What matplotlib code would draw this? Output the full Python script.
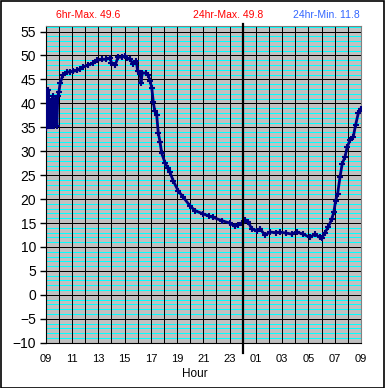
import numpy as np
import matplotlib
matplotlib.use("Agg")
import matplotlib.pyplot as plt
from matplotlib.ticker import MultipleLocator, FuncFormatter

plt.rcParams['font.family'] = ['Liberation Sans', 'DejaVu Sans']

# hours since 00:00 of first day (09 -> 33 = 09 next day)
hours = [9.00, 9.05, 9.12, 9.20, 9.30, 9.38, 9.45, 9.55, 9.65, 9.75, 9.85, 9.92,
         10.00, 10.10, 10.30, 10.60, 10.85, 11.10, 11.40, 11.60, 11.86, 12.20,
         12.60, 12.90, 13.30, 13.60, 13.90, 14.00, 14.30, 14.50, 14.80, 15.00,
         15.20, 15.40, 15.65, 15.90, 16.00, 16.20, 16.25, 16.35, 16.60, 16.80,
         16.95, 17.07, 17.19, 17.30, 17.45, 17.57, 17.70, 17.83, 18.08, 18.30,
         18.46, 18.71, 19.09, 19.47, 19.98, 20.36, 20.99, 21.40, 21.75, 22.39,
         23.02, 23.40, 23.60, 23.92, 24.17, 24.42, 24.68, 25.06, 25.31, 25.69,
         26.07, 26.50, 26.83, 27.30, 27.72, 28.10, 28.60, 29.11, 29.49, 29.87,
         30.00, 30.25, 30.50, 30.77, 30.94, 31.07, 31.22, 31.40, 31.57, 31.78,
         31.95, 32.16, 32.41, 32.59, 32.79, 32.97]
temps = [34.8, 42.5, 35.5, 42.8, 35.2, 40.5, 35.2, 41.5, 35.3, 41.0, 35.2, 41.5,
         42.3, 44.2, 45.9, 46.5, 46.6, 46.7, 46.9, 47.2, 47.6, 48.0,
         48.4, 49.0, 49.2, 49.2, 49.5, 48.5, 48.1, 49.6, 49.7, 49.8,
         49.4, 49.2, 48.3, 48.8, 46.7, 46.2, 44.2, 46.4, 46.3, 46.0,
         44.6, 43.3, 40.3, 38.4, 37.5, 33.8, 32.0, 29.6, 27.6, 26.4,
         25.6, 23.8, 21.7, 20.4, 18.6, 17.6, 16.9, 16.5, 16.2, 15.5,
         15.0, 14.3, 14.6, 15.0, 15.7, 15.2, 13.8, 13.4, 13.8, 12.5,
         13.1, 13.0, 13.1, 12.9, 12.7, 13.1, 12.7, 12.0, 12.7, 12.0,
         11.8, 13.0, 14.1, 15.8, 17.4, 19.7, 21.1, 24.6, 27.4, 28.8,
         30.9, 32.3, 33.0, 35.5, 37.9, 38.8]

header_texts = ["6hr-Max. 49.6", "24hr-Max. 49.8", "24hr-Min. 11.8"]
header_colors = ["#FF0000", "#FF0000", "#3366FF"]
header_x = [88, 228, 326]

W, H = 385, 388
fig = plt.figure(figsize=(W / 100, H / 100), dpi=100)
fig.patch.set_facecolor("white")

# rahmen um das ganze bild
fig.patches.append(plt.Rectangle((0.5 / W, 0.5 / H), 1 - 1.5 / W, 1 - 1.5 / H,
                                 transform=fig.transFigure, fill=False,
                                 edgecolor="black", linewidth=1.2))

left, right, top, bottom = 45.7, 361, 26.3, 342.7
ax = fig.add_axes([left / W, 1 - bottom / H, (right - left) / W, (bottom - top) / H])
ax.set_facecolor("#C0C0C0")

ax.set_xlim(9, 33)
ax.set_ylim(-10, 56.1)

ax.yaxis.set_major_locator(MultipleLocator(5))
ax.xaxis.set_major_locator(MultipleLocator(1))

# gitter: erst cyan (jede einheit), dann schwarz
for y in np.arange(-9, 57, 1):
    if y % 5 != 0:
        ax.axhline(y, color="#00FFFF", linewidth=0.5, zorder=0.5,
                   antialiased=False)
for y in np.arange(-5, 56, 5):
    ax.axhline(y, color="black", linewidth=0.6, zorder=0.6, antialiased=False)
for x in np.arange(10, 33, 1):
    ax.axvline(x, color="black", linewidth=0.6, zorder=0.7, antialiased=False)

ax.xaxis.set_major_formatter(FuncFormatter(
    lambda h, p: "%02d" % (int(round(h)) % 24) if int(round(h)) % 2 == 1 else ""))
ax.tick_params(axis="x", length=0, labelsize=8, pad=8)
ax.tick_params(axis="y", which="major", length=4, width=1, direction="out",
               labelsize=10, pad=3)

for s in ["top", "right"]:
    ax.spines[s].set_color("#808080")
for s in ["left", "bottom"]:
    ax.spines[s].set_color("black")

ax.plot(hours, temps, color="#000080", linewidth=2.0, marker="+",
        markersize=4.5, markeredgewidth=1.5, zorder=3)

# mitternacht
ax.axvline(24, ymin=-0.033, ymax=1.007, color="black", linewidth=1.6,
           clip_on=False, zorder=4)

for t, c, x in zip(header_texts, header_colors, header_x):
    fig.text(x / W, 1 - 15.5 / H, t, color=c, fontsize=7.5,
             ha="center", va="center")

fig.text(195 / W, 1 - 374 / H, "Hour", fontsize=8.5, ha="center", va="center")

fig.savefig("out.png", dpi=100)
